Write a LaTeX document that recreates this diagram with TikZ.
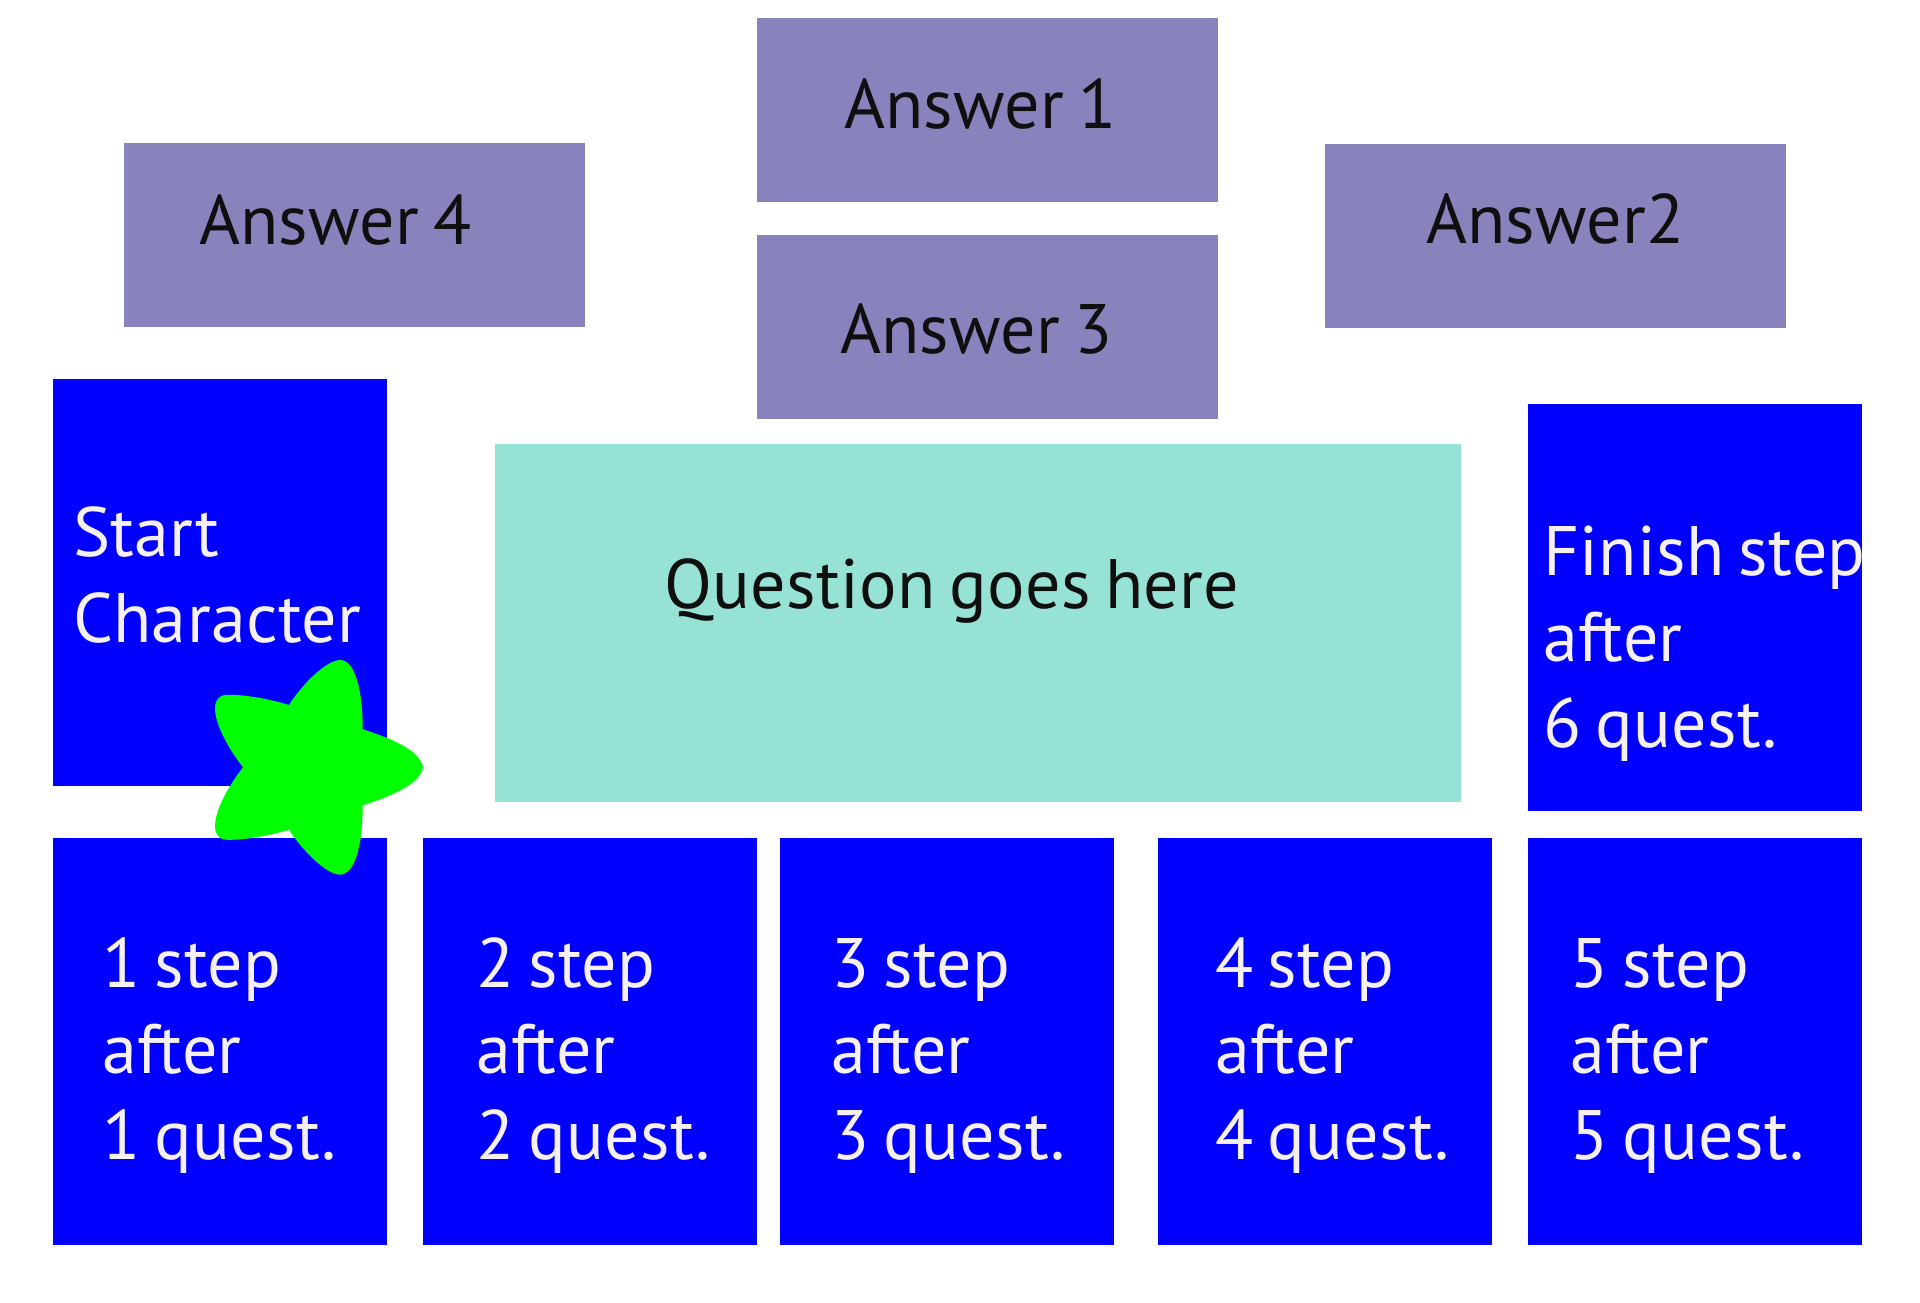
\documentclass[tikz,border=0pt]{standalone}
\usepackage{fontspec}
\setmainfont[WordSpace=0.75,LetterSpace=0.5]{PT Sans}
\definecolor{answerfill}{RGB}{137,131,189}
\definecolor{questionfill}{RGB}{150,226,212}
\definecolor{stepfill}{RGB}{0,0,255}
\definecolor{starfill}{RGB}{0,255,0}
\definecolor{lighttext}{RGB}{246,240,240}
\definecolor{darktext}{RGB}{15,15,15}
\tikzset{
  panel/.style={inner sep=0pt,outer sep=0pt,draw=none,rectangle},
  answerbox/.style={panel,fill=answerfill},
  questionbox/.style={panel,fill=questionfill},
  stepbox/.style={panel,fill=stepfill},
  darklabel/.style={inner sep=0pt,outer sep=0pt,anchor=base west,text=darktext,font=\fontsize{70}{86}\selectfont},
  lightlabel/.style={inner sep=0pt,outer sep=0pt,anchor=base west,align=left,text=lighttext,font=\fontsize{70}{86}\selectfont},
}
\newcommand{\boxat}[6]{\node[#1,minimum width=#5 pt-#3 pt,minimum height=#6 pt-#4 pt,anchor=north west] (#2) at (#3,#4) {};}
\begin{document}
\begin{tikzpicture}[x=1pt,y=-1pt]
\useasboundingbox (0,0) rectangle (1920,1302);
\boxat{answerbox}{a1}{756.5}{18}{1218}{202}
\boxat{answerbox}{a3}{756.5}{235}{1218}{419}
\boxat{answerbox}{a4}{124}{143}{585}{327}
\boxat{answerbox}{a2}{1325}{144}{1785.5}{328}
\boxat{questionbox}{q}{495}{444}{1461}{802}
\boxat{stepbox}{start}{53}{379}{387}{786}
\boxat{stepbox}{finish}{1528}{404}{1862}{810.5}
\boxat{stepbox}{s1}{53}{838}{387}{1245}
\boxat{stepbox}{s2}{423}{838}{756.5}{1245}
\boxat{stepbox}{s3}{780}{838}{1114}{1245}
\boxat{stepbox}{s4}{1158}{838}{1491.5}{1245}
\boxat{stepbox}{s5}{1528}{838}{1862}{1245}
\node[darklabel] (ta1) at (844,128) {Answer 1};
\node[darklabel] (ta3) at (840,353) {Answer 3};
\node[darklabel] (ta4) at (199,244) {Answer 4};
\node[darklabel] (ta2) at (1426,243) {Answer2};
\node[darklabel] (tq) at (664,608) {Question goes here};
\node[lightlabel] (tstart) at (73,642) {Start\\Character};
\node[lightlabel] (tfinish) at (1543,747) {Finish step\\after\\6 quest.};
\node[lightlabel] (t1) at (102,1159) {1 step\\after\\1 quest.};
\node[lightlabel] (t2) at (476,1159) {2 step\\after\\2 quest.};
\node[lightlabel] (t3) at (831,1159) {3 step\\after\\3 quest.};
\node[lightlabel] (t4) at (1215,1159) {4 step\\after\\4 quest.};
\node[lightlabel] (t5) at (1570,1159) {5 step\\after\\5 quest.};
\fill[starfill] (423,767.3)
  .. controls (420,750) and (390,738) .. (362.7,729.3)
  .. controls (362.7,690) and (355,660) .. (340,660)
  .. controls (327,660) and (303,683) .. (289,705)
  .. controls (263,697) and (237,694) .. (225,695)
  .. controls (217,696) and (215,703) .. (215,708)
  .. controls (215,727) and (232,753) .. (243,767.3)
  .. controls (232,781.6) and (215,807.6) .. (215,826.6)
  .. controls (215,831.6) and (217,838.6) .. (225,839.6)
  .. controls (237,840.6) and (263,837.6) .. (289,829.6)
  .. controls (303,851.6) and (327,874.6) .. (340,874.6)
  .. controls (355,874.6) and (362.7,844.6) .. (362.7,805.3)
  .. controls (390,796.6) and (420,784.6) .. (423,767.3) -- cycle;
\end{tikzpicture}
\end{document}
